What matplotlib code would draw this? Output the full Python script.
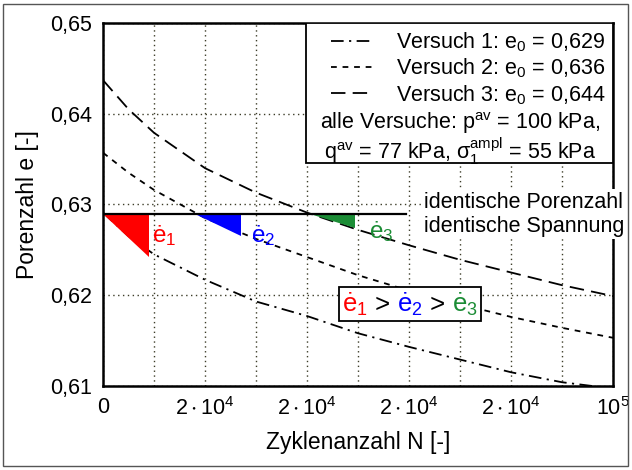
import matplotlib
matplotlib.use("Agg")
import matplotlib.pyplot as plt
from matplotlib.patches import Rectangle
from matplotlib.offsetbox import TextArea, HPacker, AnnotationBbox

plt.rcParams["font.family"] = ["Liberation Sans", "DejaVu Sans"]
plt.rcParams["mathtext.fontset"] = "custom"
plt.rcParams["mathtext.rm"] = "Liberation Sans"
plt.rcParams["mathtext.it"] = "Liberation Sans"
plt.rcParams["mathtext.bf"] = "Liberation Sans:bold"
plt.rcParams["mathtext.default"] = "regular"

# cycles and void ratio of the three tests
N = [0, 5e3, 1e4, 2e4, 3e4, 4e4, 5e4, 6e4, 7e4, 8e4, 9e4, 1e5]
e_v1 = [0.6291, 0.6265, 0.6245, 0.6217, 0.6193, 0.6177, 0.6158, 0.6143, 0.6129, 0.6115, 0.6104, 0.6097]
e_v2 = [0.6357, 0.6335, 0.6316, 0.6285, 0.6262, 0.6242, 0.6222, 0.6205, 0.6190, 0.6176, 0.6164, 0.6153]
e_v3 = [0.6437, 0.6405, 0.6379, 0.6340, 0.6313, 0.6291, 0.6272, 0.6255, 0.6239, 0.6225, 0.6211, 0.6199]
labels = ["Versuch 1: e$_0$ = 0,629", "Versuch 2: e$_0$ = 0,636", "Versuch 3: e$_0$ = 0,644"]

# reference void ratio and tangent triangles (rates)
e_ref = 0.629
ref_N = [0, 5.95e4]
tri_start = [0, 1.8e4, 4.05e4]
tri_end = [9e3, 2.7e4, 4.95e4]
tri_low = [0.6242, 0.6265, 0.6274]
tri_colors = ["#ff0000", "#0000ff", "#1b8c35"]
rate_labels = ["ė$_1$", "ė$_2$", "ė$_3$"]

yticks = [0.61, 0.62, 0.63, 0.64, 0.65]
ytick_labels = ["0,61", "0,62", "0,63", "0,64", "0,65"]
xticks = [0, 2e4, 4e4, 6e4, 8e4, 1e5]
xtick_labels = ["0", r"$2\cdot10^4$", r"$2\cdot10^4$", r"$2\cdot10^4$", r"$2\cdot10^4$", "$10^5$"]

fig = plt.figure(figsize=(6.32, 4.70), dpi=100)
ax = fig.add_axes([0.163, 0.179, 0.807, 0.772])

fs = 15.5
lw = 1.3
ax.plot(N, e_v1, color="k", lw=lw, linestyle=(0, (7, 3, 1.2, 3)), label=labels[0])
ax.plot(N, e_v2, color="k", lw=lw, linestyle=(0, (3.2, 3.2)), label=labels[1])
ax.plot(N, e_v3, color="k", lw=lw, linestyle=(0, (8, 4)), label=labels[2])

ax.plot(ref_N, [e_ref, e_ref], color="k", lw=1.6, zorder=3)
for n0, n1, lo, c in zip(tri_start, tri_end, tri_low, tri_colors):
    ax.fill([n0, n1, n1], [e_ref, e_ref, lo], color=c, lw=0, zorder=2)

label_pos = [(1.2e4, 0.6266), (3.14e4, 0.6266), (5.45e4, 0.6270)]
for (x, y), t, c in zip(label_pos, rate_labels, tri_colors):
    ax.text(x, y, t, color=c, fontsize=fs + 2, ha="center", va="center")

ax.set_xlim(0, 1e5)
ax.set_ylim(0.61, 0.65)
ax.set_yticks(yticks)
ax.set_yticklabels(ytick_labels)
ax.set_xticks(xticks)
ax.set_xticklabels(xtick_labels)
ax.set_xticks([1e4 * i for i in range(1, 10)], minor=True)
ax.tick_params(which="both", length=0, labelsize=fs, pad=8)
ax.grid(which="both", axis="x", color="#3c3c28", linestyle=(0, (1, 2.5)), lw=1.0)
ax.grid(which="major", axis="y", color="#3c3c28", linestyle=(0, (1, 2.5)), lw=1.0)
for s in ax.spines.values():
    s.set_linewidth(1.8)
ax.set_xlabel("Zyklenanzahl N [-]", fontsize=fs + 1, labelpad=8)
ax.set_ylabel("Porenzahl e [-]", fontsize=fs + 1, labelpad=8)

# legend box
ax.add_patch(Rectangle((0.398, 0.614), 0.602, 0.386, transform=ax.transAxes,
                       facecolor="white", edgecolor="k", lw=1.3, zorder=4))
leg = ax.legend(loc="upper right", bbox_to_anchor=(1.0, 1.0), frameon=False,
                fontsize=fs, handlelength=2.0, handletextpad=1.0,
                labelspacing=0.12, borderpad=0.25, borderaxespad=0.1)
leg.set_zorder(5)
ax.text(0.70, 0.724, "alle Versuche: p$^{av}$ = 100 kPa,", transform=ax.transAxes,
        fontsize=fs, ha="center", va="center", zorder=6)
ax.text(0.70, 0.648, r"q$^{av}$ = 77 kPa, $\sigma_1^{ampl}$ = 55 kPa", transform=ax.transAxes,
        fontsize=fs, ha="center", va="center", zorder=6)

ax.text(6.3e4, 0.6289, "identische Porenzahl\nidentische Spannung", fontsize=fs,
        ha="left", va="center", linespacing=1.15, zorder=10, clip_on=False,
        bbox=dict(facecolor="white", edgecolor="none", pad=2))

# rate comparison box
parts = [TextArea(rate_labels[0], textprops=dict(color=tri_colors[0], fontsize=fs + 3)),
         TextArea(" > ", textprops=dict(color="k", fontsize=fs + 3)),
         TextArea(rate_labels[1], textprops=dict(color=tri_colors[1], fontsize=fs + 3)),
         TextArea(" > ", textprops=dict(color="k", fontsize=fs + 3)),
         TextArea(rate_labels[2], textprops=dict(color=tri_colors[2], fontsize=fs + 3))]
pack = HPacker(children=parts, align="baseline", pad=0, sep=0)
ab = AnnotationBbox(pack, (6.02e4, 0.6190), frameon=True, pad=0.25,
                    bboxprops=dict(edgecolor="k", facecolor="white", lw=1.3))
ab.set_zorder(6)
ax.add_artist(ab)

fig.patches.append(Rectangle((0.005, 0.008), 0.988, 0.984, transform=fig.transFigure,
                             fill=False, edgecolor="#555555", lw=1.0))

fig.savefig("out.png", dpi=100)
